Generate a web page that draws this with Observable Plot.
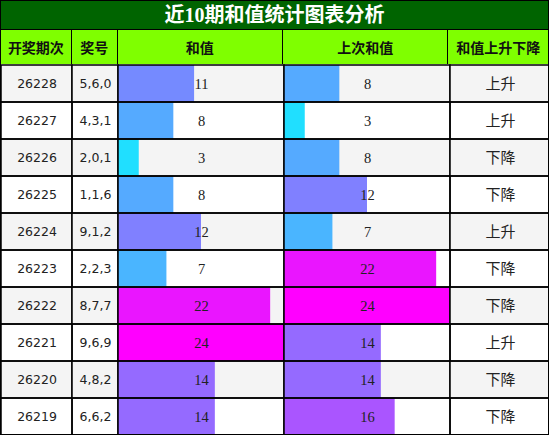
<!DOCTYPE html>
<html>
<head>
<meta charset="utf-8">
<script src="https://cdn.jsdelivr.net/npm/d3@7"></script>
<script src="https://cdn.jsdelivr.net/npm/@observablehq/plot@0.6"></script>
<style>
  html, body { margin: 0; padding: 0; background: white; }
  #wrap { width: 549px; height: 435px; box-sizing: border-box; border: 1px solid #000; overflow: hidden; }
  #title { height: 28px; background: #006400; color: #fff; font: bold 20px "Liberation Serif", "Noto Sans CJK SC", serif; text-align: center; line-height: 28px; border-bottom: 1.5px solid #000; box-sizing: content-box; }
  #head { display: flex; height: 34px; background: #7fff00; }
  #head div { box-sizing: border-box; border-right: 1.5px solid #000; font: bold 14px "Noto Sans CJK SC", sans-serif; color: #111; display: flex; align-items: center; justify-content: center; }
  #head div:last-child { border-right: none; }
  #body { display: flex; height: 371px; }
  #body svg { display: block; }
</style>
</head>
<body>
<div id="wrap">
  <div id="title"></div>
  <div id="head"></div>
  <div id="body"></div>
</div>
<script>
const title = "近10期和值统计图表分析";
const headers = ["开奖期次", "奖号", "和值", "上次和值", "和值上升下降"];
const periods = ["26228", "26227", "26226", "26225", "26224", "26223", "26222", "26221", "26220", "26219"];
const draws = ["5,6,0", "4,3,1", "2,0,1", "1,1,6", "9,1,2", "2,2,3", "8,7,7", "9,6,9", "4,8,2", "6,6,2"];
const sums = [11, 8, 3, 8, 12, 7, 22, 24, 14, 14];
const prevSums = [8, 3, 8, 12, 7, 22, 24, 14, 14, 16];
const trends = ["上升", "上升", "下降", "下降", "上升", "下降", "下降", "上升", "下降", "下降"];

const colWidths = [71, 46, 166, 166, 100];

const rows = periods.map((p, i) => ({period: p, draw: draws[i], sum: sums[i], prev: prevSums[i], trend: trends[i], i}));

document.getElementById("title").textContent = title;
const head = document.getElementById("head");
headers.forEach((h, i) => {
  const d = document.createElement("div");
  d.style.width = colWidths[i] + "px";
  d.textContent = h;
  head.appendChild(d);
});

function column(width, marks) {
  return Plot.plot({
    width, height: 371, margin: 0,
    x: {domain: [0, 24], axis: null},
    y: {domain: periods, axis: null, padding: 0},
    color: {type: "linear", domain: [0, 24], range: ["#00ffff", "#ff00ff"], interpolate: "rgb"},
    style: {overflow: "visible", background: "transparent"},
    marks
  });
}
const stripe = () => Plot.cell(rows, {y: "period", filter: d => d.i % 2 === 0, fill: "#f4f4f4", inset: 0});
const grid = () => Plot.cell(rows, {y: "period", fill: "none", stroke: "#000", strokeWidth: 1.5, inset: 0});

const body = document.getElementById("body");
body.appendChild(column(colWidths[0], [
  stripe(),
  Plot.text(rows, {y: "period", text: "period", fontFamily: "DejaVu Sans", fontSize: 12.5, fill: "#222"}),
  grid()
]));
body.appendChild(column(colWidths[1], [
  stripe(),
  Plot.text(rows, {y: "period", text: "draw", fontFamily: "DejaVu Sans", fontSize: 12.5, fill: "#222"}),
  grid()
]));
body.appendChild(column(colWidths[2], [
  stripe(),
  Plot.barX(rows, {x: "sum", y: "period", fill: "sum", inset: 0}),
  Plot.text(rows, {y: "period", text: "sum", fontFamily: "Liberation Serif", fontSize: 14.5, fill: "#222"}),
  grid()
]));
body.appendChild(column(colWidths[3], [
  stripe(),
  Plot.barX(rows, {x: "prev", y: "period", fill: "prev", inset: 0}),
  Plot.text(rows, {y: "period", text: "prev", fontFamily: "Liberation Serif", fontSize: 14.5, fill: "#222"}),
  grid()
]));
body.appendChild(column(colWidths[4], [
  stripe(),
  Plot.text(rows, {y: "period", text: "trend", fontFamily: "Noto Sans CJK SC", fontSize: 15, fill: "#222"}),
  grid()
]));
</script>
</body>
</html>
